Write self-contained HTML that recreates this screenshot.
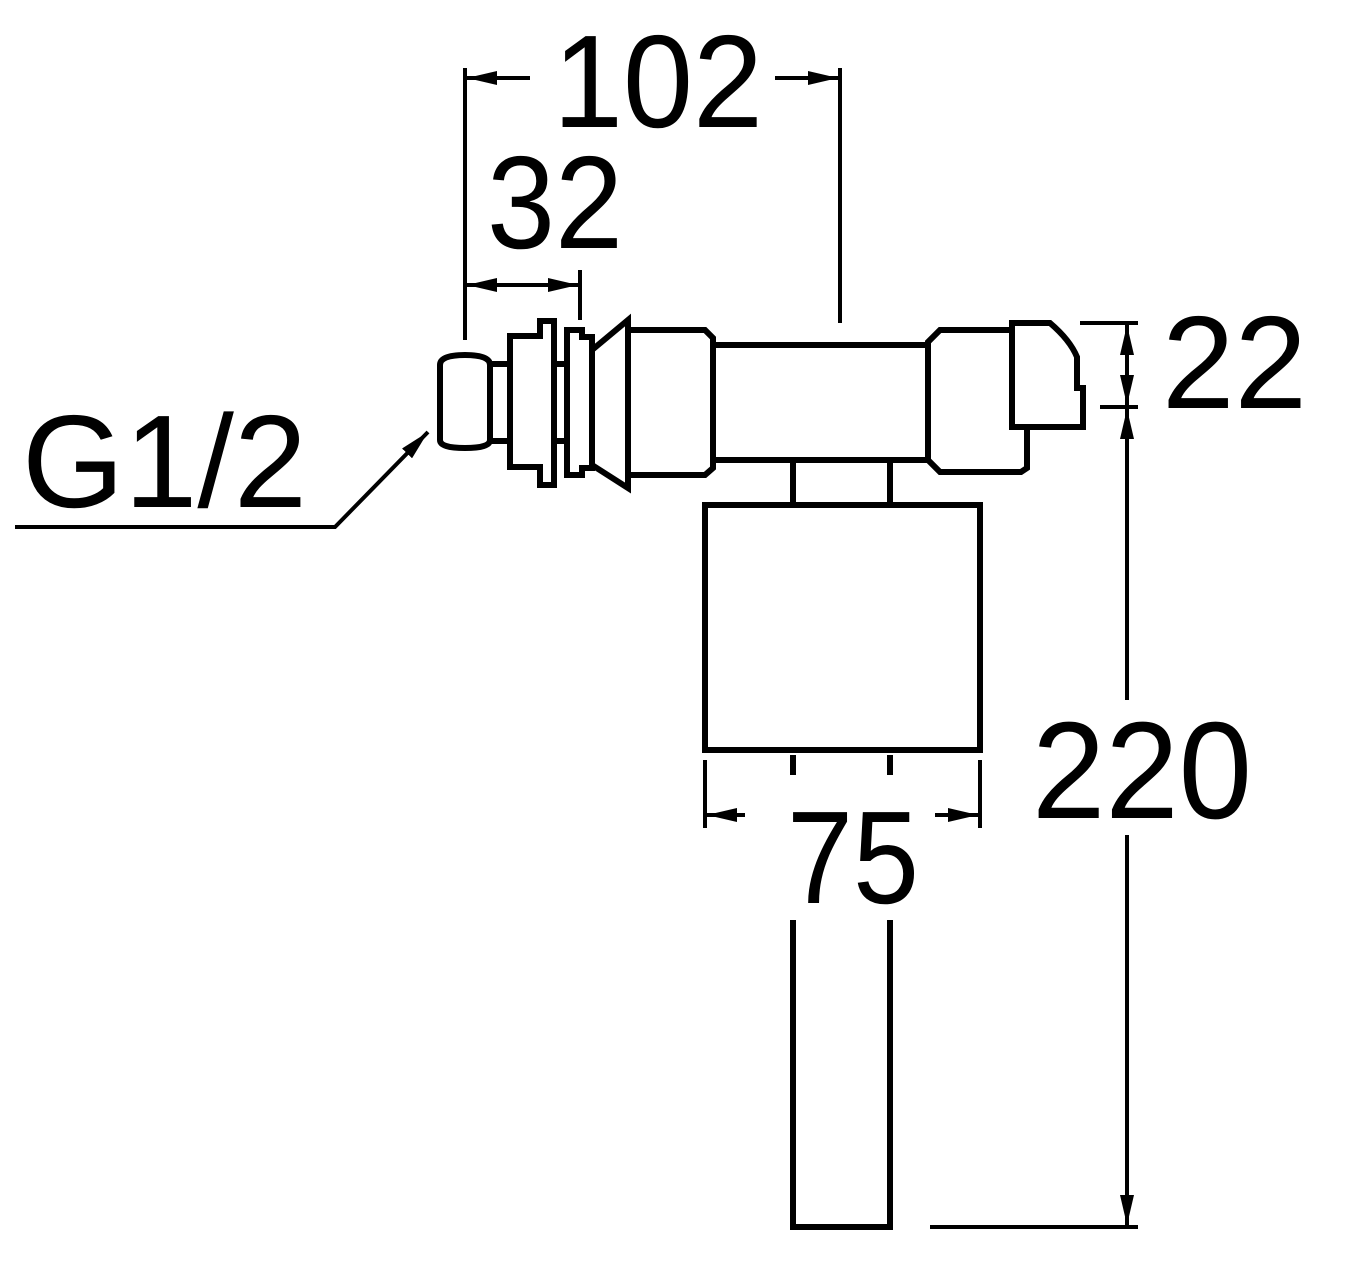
<!DOCTYPE html>
<html><head><meta charset="utf-8"><style>
html,body{margin:0;padding:0;background:#fff;}
svg{display:block}
text{font-family:"Liberation Sans",sans-serif;fill:#000}
</style></head><body>
<svg width="1353" height="1281" viewBox="0 0 1353 1281" xmlns="http://www.w3.org/2000/svg">
<defs>
<marker id="b" viewBox="0 0 30 14" refX="30" refY="7" markerWidth="30" markerHeight="14" markerUnits="userSpaceOnUse" orient="auto-start-reverse">
<path d="M0,0 L30,7 L0,14 Z" fill="#000"/></marker>
</defs>
<g fill="none" stroke="#000" stroke-width="6" stroke-linejoin="miter">
<path d="M440,365 Q440,355 465,355 Q490,355 490,365 L490,440 Q490,448 465,448 Q440,448 440,440 Z"/>
<rect x="490" y="364" width="20" height="77"/>
<path d="M510,336 L540,336 L540,321 L554,321 L554,485 L540,485 L540,467 L510,467 Z"/>
<rect x="554" y="364" width="13" height="77"/>
<path d="M567,330 L582,330 L582,337 L592,337 L592,468 L582,468 L582,475 L567,475 Z"/>
<path d="M592,350 L628,320 L628,488 L592,465"/>
<path d="M628,330 L705,330 L713,338 L713,468 L705,475 L628,475"/>
<rect x="713" y="345" width="215" height="115"/>
<path d="M1012,330 L940,330 L928,342 L928,460 L940,472 L1021,472 L1027,468 L1027,427"/>
<path d="M1012,323 L1050,323 Q1070,340 1077,357 L1077,388 L1083,388 L1083,427 L1012,427 Z"/>
<line x1="793" y1="460" x2="793" y2="505"/>
<line x1="890" y1="460" x2="890" y2="505"/>
<rect x="705" y="505" width="275" height="245"/>
<line x1="793" y1="755" x2="793" y2="775"/>
<line x1="890" y1="755" x2="890" y2="775"/>
<path d="M793,920 L793,1227 L890,1227 L890,920"/>
</g>
<g fill="none" stroke="#000" stroke-width="4">
<line x1="465" y1="68" x2="465" y2="340"/>
<line x1="840" y1="68" x2="840" y2="323"/>
<line x1="530" y1="78" x2="467" y2="78" marker-end="url(#b)"/>
<line x1="775" y1="78" x2="838" y2="78" marker-end="url(#b)"/>
<line x1="580" y1="270" x2="580" y2="320"/>
<line x1="467" y1="285" x2="578" y2="285" marker-start="url(#b)" marker-end="url(#b)"/>
<line x1="705" y1="760" x2="705" y2="828"/>
<line x1="980" y1="760" x2="980" y2="828"/>
<line x1="745" y1="815" x2="707" y2="815" marker-end="url(#b)"/>
<line x1="935" y1="815" x2="978" y2="815" marker-end="url(#b)"/>
<line x1="1080" y1="323" x2="1138" y2="323"/>
<line x1="1100" y1="407" x2="1138" y2="407"/>
<line x1="930" y1="1227" x2="1138" y2="1227"/>
<line x1="1127" y1="325" x2="1127" y2="405" marker-start="url(#b)" marker-end="url(#b)"/>
<line x1="1127" y1="700" x2="1127" y2="409" marker-end="url(#b)"/>
<line x1="1127" y1="835" x2="1127" y2="1225" marker-end="url(#b)"/>
<path d="M15,527 L335,527 L428,432" marker-end="url(#b)"/>
</g>
<g font-size="132">
<text x="553" y="127" textLength="210" lengthAdjust="spacingAndGlyphs">102</text>
<text x="487" y="248" textLength="136" lengthAdjust="spacingAndGlyphs">32</text>
<text x="1162" y="408" textLength="145" lengthAdjust="spacingAndGlyphs">22</text>
<text x="1032" y="818" font-size="138" textLength="220" lengthAdjust="spacingAndGlyphs">220</text>
<text x="787" y="903" textLength="132" lengthAdjust="spacingAndGlyphs">75</text>
<text x="22" y="507" textLength="285" lengthAdjust="spacingAndGlyphs">G1/2</text>
</g>
</svg>
</body></html>
